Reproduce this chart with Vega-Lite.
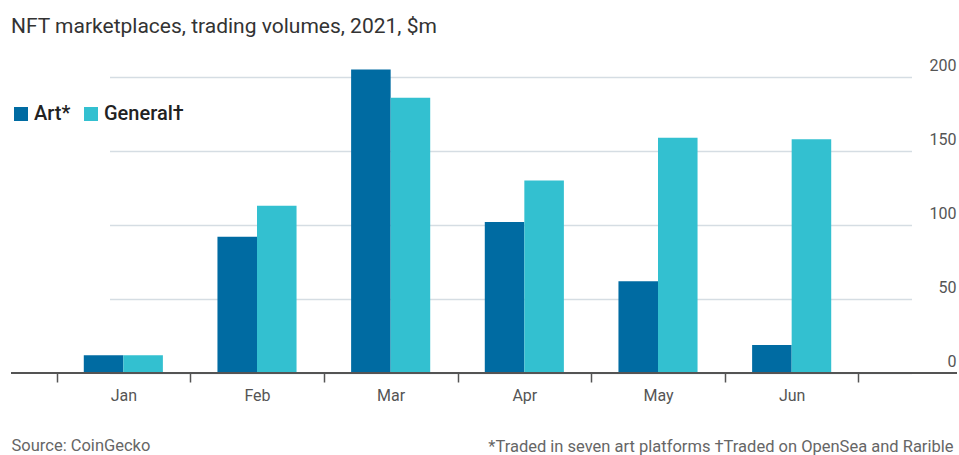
{
  "$schema": "https://vega.github.io/schema/vega-lite/v6.json",
  "width": 946,
  "height": 296,
  "autosize": {"type": "none"},
  "padding": {"left": 11, "top": 77, "right": 2, "bottom": 82},
  "background": "white",
  "title": {
    "text": "NFT marketplaces, trading volumes, 2021, $m",
    "anchor": "start",
    "frame": "group",
    "font": "Roboto",
    "fontSize": 21,
    "fontWeight": "normal",
    "color": "#333333",
    "baseline": "alphabetic",
    "offset": 3
  },
  "config": {"view": {"stroke": null}, "font": "Roboto"},
  "data": {
    "values": [
      {"month": "Jan", "series": "Art*", "value": 12},
      {"month": "Jan", "series": "General†", "value": 12},
      {"month": "Feb", "series": "Art*", "value": 92},
      {"month": "Feb", "series": "General†", "value": 113},
      {"month": "Mar", "series": "Art*", "value": 205},
      {"month": "Mar", "series": "General†", "value": 186},
      {"month": "Apr", "series": "Art*", "value": 102},
      {"month": "Apr", "series": "General†", "value": 130},
      {"month": "May", "series": "Art*", "value": 62},
      {"month": "May", "series": "General†", "value": 159},
      {"month": "Jun", "series": "Art*", "value": 19},
      {"month": "Jun", "series": "General†", "value": 158}
    ]
  },
  "layer": [
    {
      "mark": {"type": "bar"},
      "encoding": {
        "x": {
          "field": "month",
          "type": "nominal",
          "sort": ["Jan", "Feb", "Mar", "Apr", "May", "Jun"],
          "scale": {"range": [45.5, 847.5], "paddingInner": 0, "paddingOuter": 0},
          "axis": {
            "orient": "bottom",
            "title": "Source: CoinGecko",
            "titleAnchor": "start",
            "titleAlign": "left",
            "titleX": 0,
            "titleY": 77,
            "titleBaseline": "alphabetic",
            "titleFont": "Roboto",
            "titleFontSize": 16.5,
            "titleFontWeight": "normal",
            "titleColor": "#666666",
            "domain": false,
            "tickBand": "extent",
            "tickSize": 9,
            "tickColor": "#555555",
            "tickWidth": 1.5,
            "labelFont": "Roboto",
            "labelFontSize": 16,
            "labelColor": "#555555",
            "labelPadding": 5,
            "labelAngle": 0
          }
        },
        "xOffset": {"field": "series", "type": "nominal", "sort": ["Art*", "General†"], "scale": {"paddingInner": 0, "paddingOuter": 0.69}},
        "y": {
          "field": "value",
          "type": "quantitative",
          "scale": {"domain": [0, 200], "nice": false},
          "axis": {
            "orient": "right",
            "values": [0, 50, 100, 150, 200],
            "domain": false,
            "ticks": false,
            "tickSize": 0,
            "grid": true,
            "gridColor": "#d5dde3",
            "gridWidth": 1.5,
            "labelAlign": "right",
            "labelBaseline": "alphabetic",
            "labelPadding": -1,
            "labelOffset": -7,
            "labelFont": "Roboto",
            "labelFontSize": 16,
            "labelColor": "#555555",
            "title": "*Traded in seven art platforms †Traded on OpenSea and Rarible",
            "titleAngle": 0,
            "titleAlign": "right",
            "titleBaseline": "alphabetic",
            "titleX": -4,
            "titleY": 374,
            "titleFont": "Roboto",
            "titleFontSize": 16.5,
            "titleFontWeight": "normal",
            "titleColor": "#666666"
          }
        },
        "color": {
          "field": "series",
          "type": "nominal",
          "scale": {"domain": ["Art*", "General†"], "range": ["#006ba2", "#33c0d0"]},
          "legend": {
            "orient": "none",
            "legendX": 0,
            "legendY": 27,
            "direction": "horizontal",
            "title": null,
            "symbolType": "square",
            "symbolSize": 196,
            "symbolStrokeWidth": 0,
            "symbolOpacity": 1,
            "labelFont": "Roboto",
            "labelFontSize": 20,
            "labelFontWeight": 500,
            "labelColor": "#222222",
            "columnPadding": 10,
            "labelOffset": 3,
            "padding": 0
          }
        }
      }
    },
    {
      "mark": {"type": "rule", "color": "#555555", "strokeWidth": 1.5},
      "encoding": {"y": {"datum": 0}}
    }
  ]
}
